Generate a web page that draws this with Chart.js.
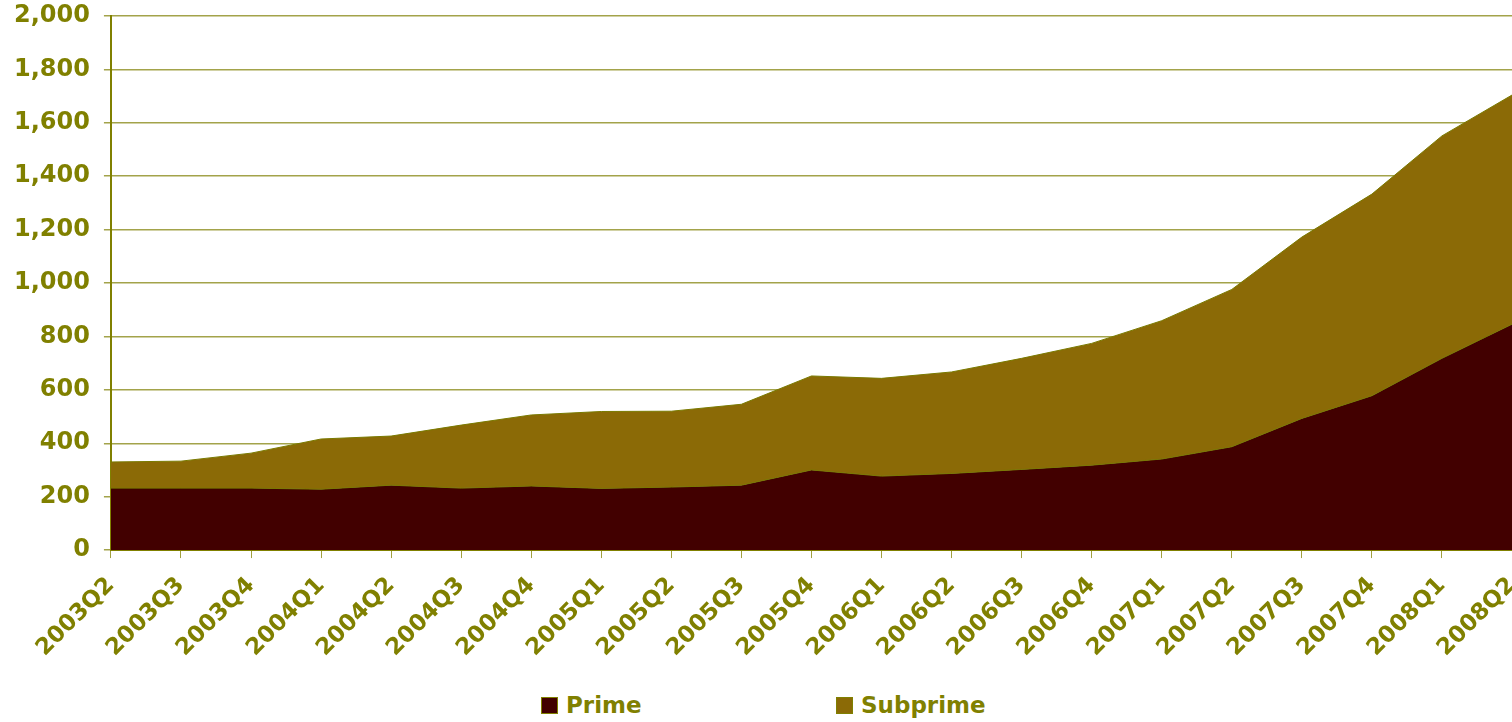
<!DOCTYPE html>
<html>
<head>
<meta charset="utf-8">
<script src="https://cdn.jsdelivr.net/npm/chart.js@4"></script>
<style>
  html, body { margin: 0; padding: 0; background: #fff; }
  #wrap { position: relative; width: 1512px; height: 722px; }
  #chartBox { position: absolute; left: 0; top: 0; width: 1512px; height: 676px; }
  #legend { position: absolute; left: 541px; top: 692px; display: flex; font: bold 23px "DejaVu Sans"; color: #808000; }
  .item { display: flex; align-items: center; }
  .item span.box { display: inline-block; width: 15px; height: 15px; border: 1px solid #808000; margin-right: 8px; }
</style>
</head>
<body>
<div id="wrap">
  <div id="chartBox"><canvas id="chartLoans"></canvas></div>
  <div id="legend"></div>
</div>
<script>
const quarters = ["2003Q2", "2003Q3", "2003Q4", "2004Q1", "2004Q2", "2004Q3", "2004Q4", "2005Q1", "2005Q2", "2005Q3", "2005Q4",
  "2006Q1", "2006Q2", "2006Q3", "2006Q4", "2007Q1", "2007Q2", "2007Q3", "2007Q4", "2008Q1", "2008Q2"];
const prime = [232, 232, 232, 228, 243, 232, 240, 231, 236, 243, 300, 277, 287, 302, 318, 341, 387, 493, 578, 718, 846];
const subprime = [98, 101, 131, 188, 184, 236, 266, 288, 284, 303, 352, 366, 380, 416, 456, 518, 589, 679, 755, 833, 858];
const seriesNames = ["Prime", "Subprime"];
const seriesColors = ["#420000", "#8b6a06"];

const olive = "#808000";

// legend drawn as html under the canvas (wide gap between items)
const legendEl = document.getElementById("legend");
seriesNames.forEach((name, i) => {
  const it = document.createElement("div");
  it.className = "item";
  it.style.width = i === 0 ? "295px" : "auto";
  it.innerHTML = '<span class="box" style="background:' + seriesColors[i] + '"></span>' + name;
  legendEl.appendChild(it);
});

document.addEventListener("DOMContentLoaded", () => {
  new Chart(document.querySelector("#chartLoans"), {
    type: "line",
    data: {
      labels: quarters,
      datasets: [
        {
          label: seriesNames[0],
          data: prime,
          fill: "origin",
          backgroundColor: seriesColors[0],
          borderColor: "#7a7a00",
          borderWidth: 1,
          pointRadius: 0,
          tension: 0,
        },
        {
          label: seriesNames[1],
          data: subprime,
          fill: "-1",
          backgroundColor: seriesColors[1],
          borderColor: "#7a7a00",
          borderWidth: 1,
          pointRadius: 0,
          tension: 0,
        },
      ],
    },
    options: {
      responsive: true,
      maintainAspectRatio: false,
      animation: false,
      layout: { padding: { top: 0, right: 0, left: 0, bottom: 0 } },
      plugins: {
        tooltip: { enabled: false },
        legend: { display: false },
      },
      scales: {
        x: {
          offset: false,
          grid: { drawOnChartArea: false, color: "#a0a040", tickLength: 8 },
          border: { color: olive, width: 2 },
          ticks: {
            color: olive,
            font: { family: "DejaVu Sans", weight: "bold", size: 23 },
            minRotation: 45,
            maxRotation: 45,
            autoSkip: false,
            padding: 14,
          },
          afterFit: (scale) => { scale.paddingRight = 0; scale.paddingLeft = 0; },
        },
        y: {
          stacked: true,
          min: 0,
          max: 2000,
          grid: { color: "#a3a34a", lineWidth: 1.5, tickLength: 7 },
          border: { color: olive, width: 2 },
          ticks: {
            stepSize: 200,
            color: olive,
            font: { family: "DejaVu Sans", weight: "bold", size: 24 },
            padding: 14,
            callback: (v) => v.toLocaleString("en-US"),
          },
          afterFit: (scale) => { scale.paddingTop = 16; },
        },
      },
    },
  });
});
</script>
</body>
</html>
